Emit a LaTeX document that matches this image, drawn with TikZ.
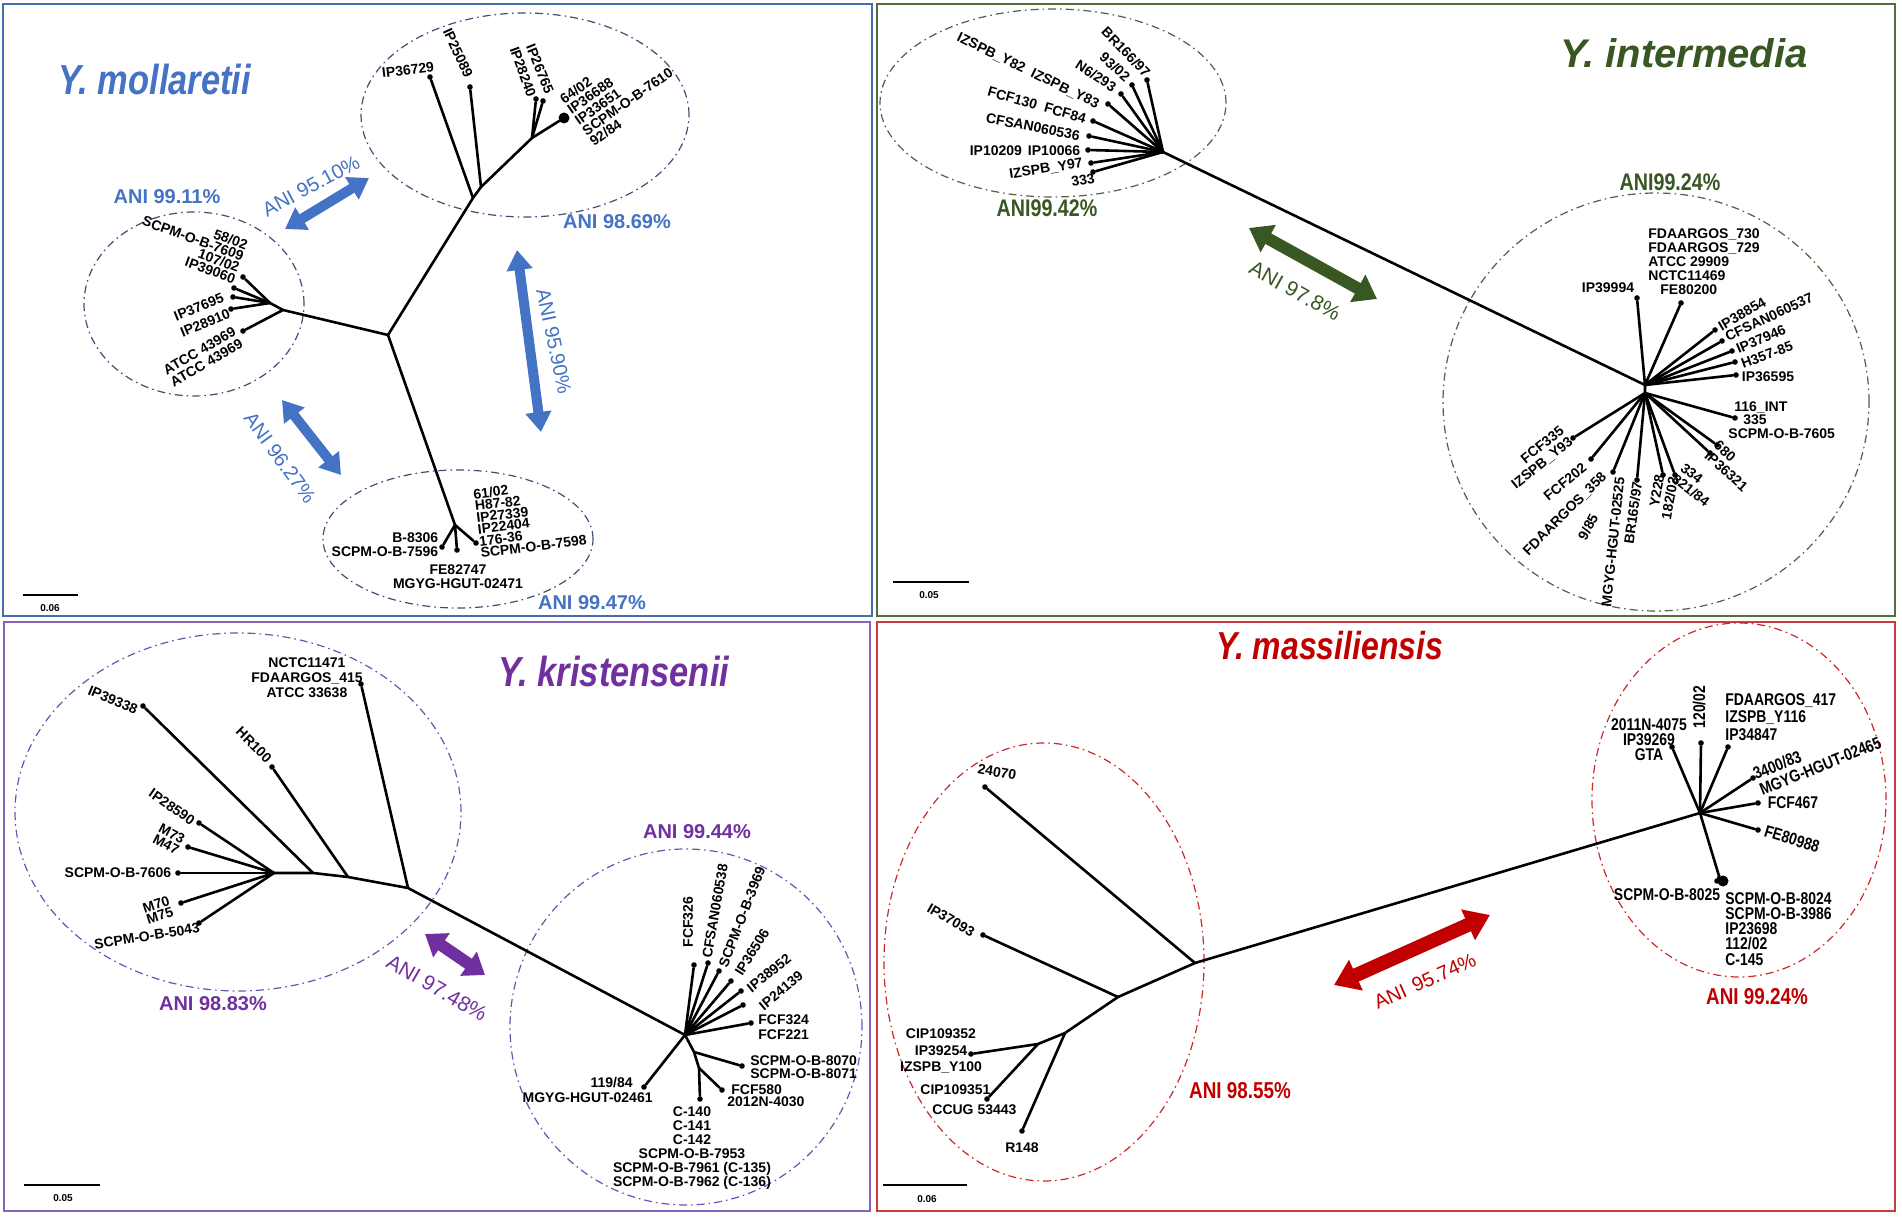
\documentclass[tikz,border=0pt]{standalone}
\usepackage{fontspec}
\setmainfont{Liberation Sans}
\newfontfamily\narrowsans[FakeStretch=0.82]{Liberation Sans}
\usepackage{tikz}
\usetikzlibrary{arrows.meta}
\definecolor{mollblue}{RGB}{68,114,196}
\definecolor{mollring}{RGB}{60,80,120}
\definecolor{mollframe}{RGB}{70,110,175}
\definecolor{intgreen}{RGB}{56,87,35}
\definecolor{intring}{RGB}{85,95,65}
\definecolor{intframe}{RGB}{84,110,60}
\definecolor{kripurple}{RGB}{112,48,160}
\definecolor{kriring}{RGB}{115,80,175}
\definecolor{kriframe}{RGB}{135,100,185}
\definecolor{masred}{RGB}{192,0,0}
\definecolor{masring}{RGB}{205,40,40}
\definecolor{masframe}{RGB}{200,60,60}
\tikzset{
	branch/.style={line width=1.3pt, line cap=round},
	leafdot/.style={circle, fill, inner sep=0pt, minimum size=2.8pt},
	bigdot/.style={circle, fill, inner sep=0pt, minimum size=5.5pt},
	strain/.style={font=\bfseries\fontsize{7}{7}\selectfont, inner sep=0pt, align=center},
	strainN/.style={strain, font=\narrowsans\bfseries\fontsize{8.5}{8.5}\selectfont},
	ring/.style={line width=0.6pt, dash pattern=on 4pt off 2pt on 0.8pt off 2pt},
	anilbl/.style={font=\bfseries\fontsize{10}{12}\selectfont, inner sep=0pt},
	gaplbl/.style={font=\fontsize{10}{12}\selectfont, inner sep=0pt},
	species/.style={font=\bfseries\itshape\fontsize{20}{24}\selectfont, inner sep=0pt},
	twoway/.style n args={3}{line width=#1, {Triangle[length=#2,width=#3]}-{Triangle[length=#2,width=#3]}},
	panel/.style={line width=1pt},
	scalebar/.style={line width=1.2pt},
	scalelbl/.style={font=\bfseries\fontsize{5}{6}\selectfont, inner sep=0pt}
}

\begin{document}
\begin{tikzpicture}[x=0.5pt, y=-0.5pt]
	\fill[white] (0,0) rectangle (1902,1218);
	\useasboundingbox (0,0) rectangle (1902,1218);

	\draw[panel, mollframe] (3,4) rectangle (872,616);
	\draw[panel, intframe] (877,4) rectangle (1895,616);
	\draw[panel, kriframe] (4,622) rectangle (870,1211);
	\draw[panel, masframe] (877,622) rectangle (1895,1211);

	% Y. mollaretii
	\node[species, mollblue, font=\narrowsans\bfseries\itshape\fontsize{21}{24}\selectfont] (tmoll) at (155,79) {Y. mollaretii};
	\draw[ring, mollring] (525,115) ellipse [x radius=82pt, y radius=51pt];
	\draw[ring, mollring] (194,304) ellipse [x radius=55pt, y radius=46pt];
	\draw[ring, mollring] (458,539) ellipse [x radius=67.5pt, y radius=34.5pt];

	\coordinate (mC) at (388,335);
	\coordinate (mT1) at (473,198);
	\coordinate (mT2) at (481,187);
	\coordinate (mT3) at (532,138);
	\coordinate (mL1) at (283,310);
	\coordinate (mL2) at (270,303);
	\coordinate (mB1) at (455,525);
	\node[leafdot] (m36729) at (430,77) {};
	\node[leafdot] (m25089) at (470,87) {};
	\node[leafdot] (m28240) at (536,99) {};
	\node[leafdot] (m26765) at (543,101) {};
	\node[bigdot] (m6402) at (564,118) {};
	\node[leafdot] (m10702) at (243,277) {};
	\node[leafdot] (m39060) at (234,288) {};
	\node[leafdot] (m7609) at (233,297) {};
	\node[leafdot] (m37695) at (231,309) {};
	\node[leafdot] (m43969) at (243,331) {};
	\node[leafdot] (m7596) at (442,547) {};
	\node[leafdot] (m82747) at (457,550) {};
	\node[leafdot] (m7598) at (476,543) {};

	\draw[branch] (mC) -- (mT1) -- (mT2) -- (mT3) -- (m6402);
	\draw[branch] (mT1) -- (m36729);
	\draw[branch] (mT2) -- (m25089);
	\draw[branch] (mT3) -- (m28240);
	\draw[branch] (mT3) -- (m26765);
	\draw[branch] (mC) -- (mL1) -- (m43969);
	\draw[branch] (mL1) -- (mL2) -- (m10702);
	\draw[branch] (mL2) -- (m39060);
	\draw[branch] (mL2) -- (m7609);
	\draw[branch] (mL2) -- (m37695);
	\draw[branch] (mC) -- (mB1) -- (m82747);
	\draw[branch] (mB1) -- (m7596);
	\draw[branch] (mB1) -- (m7598);

	\node[strain, rotate=7] (l36729) at (408,70) {IP36729};
	\node[strain, rotate=-65] (l25089) at (458,53) {IP25089};
	\node[strain, rotate=-70] (l28240) at (523,72) {IP28240};
	\node[strain, rotate=-68] (l26765) at (540,69) {IP26765};
	\node[strain, align=left, rotate=35, font=\bfseries\fontsize{7}{6.5}\selectfont] (l6402) at (620,91) {64/02\\IP36688\\IP33651\\SCPM-O-B-7610\\92/84};
	\node[strain, align=right, rotate=-20, font=\bfseries\fontsize{7}{6}\selectfont] (l7609) at (191,244) {58/02\\SCPM-O-B-7609\\107/02\\IP39060};
	\node[strain, align=right, rotate=22, font=\bfseries\fontsize{7}{8.5}\selectfont] (l37695) at (202,315) {IP37695\\IP28910};
	\node[strain, rotate=30] (l43969) at (203,357) {ATCC 43969\\ATCC 43969};
	\node[strain, align=left, rotate=7, font=\bfseries\fontsize{7}{5.9}\selectfont] (l7598) at (530,517) {61/02\\H87-82\\IP27339\\IP22404\\176-36\\SCPM-O-B-7598};
	\node[strain, align=right] (l7596) at (385,545) {B-8306\\SCPM-O-B-7596};
	\node[strain] (l82747) at (458,577) {FE82747\\MGYG-HGUT-02471};

	\node[anilbl, mollblue] (amoll1) at (167,197) {ANI 99.11\%};
	\node[anilbl, mollblue] (amoll2) at (617,222) {ANI 98.69\%};
	\node[anilbl, mollblue] (amoll3) at (592,603) {ANI 99.47\%};

	\coordinate (gm1a) at (285,229);
	\coordinate (gm1b) at (369,178);
	\coordinate (gm2a) at (517,250);
	\coordinate (gm2b) at (541,432);
	\coordinate (gm3a) at (282,400);
	\coordinate (gm3b) at (341,475);
	\draw[twoway={5pt}{10pt}{12.5pt}, mollblue] (gm1a) -- (gm1b);
	\draw[twoway={5pt}{10pt}{12.5pt}, mollblue] (gm2a) -- (gm2b);
	\draw[twoway={5pt}{10pt}{12.5pt}, mollblue] (gm3a) -- (gm3b);
	\node[gaplbl, mollblue, rotate=28] (gmoll1) at (311,186) {ANI 95.10\%};
	\node[gaplbl, mollblue, rotate=-78] (gmoll2) at (554,341) {ANI 95.90\%};
	\node[gaplbl, mollblue, rotate=-54] (gmoll3) at (280,458) {ANI 96.27\%};

	\coordinate (sbm1) at (23,595);
	\coordinate (sbm2) at (78,595);
	\draw[scalebar] (sbm1) -- (sbm2);
	\node[scalelbl] (sbmlbl) at (50,608) {0.06};

	% Y. intermedia
	\node[species, intgreen] (tint) at (1684,53) {Y. intermedia};
	\draw[ring, intring] (1053,103) ellipse [x radius=86.5pt, y radius=47pt];
	\draw[ring, intring] (1656,402) ellipse [x radius=106.5pt, y radius=104.5pt];

	\coordinate (iA) at (1163,152);
	\coordinate (iB) at (1645,385);
	\coordinate (iC) at (1645,393);
	\node[leafdot] (i16697) at (1147,80) {};
	\node[leafdot] (i9302) at (1132,85) {};
	\node[leafdot] (i6293) at (1121,94) {};
	\node[leafdot] (iY83) at (1108,104) {};
	\node[leafdot] (i84) at (1093,121) {};
	\node[leafdot] (i60536) at (1089,136) {};
	\node[leafdot] (i10066) at (1088,150) {};
	\node[leafdot] (iY97) at (1091,163) {};
	\node[leafdot] (i333) at (1093,172) {};
	\node[leafdot] (i39994) at (1637,298) {};
	\node[leafdot] (i80200) at (1681,303) {};
	\node[leafdot] (i38854) at (1715,330) {};
	\node[leafdot] (i60537) at (1722,341) {};
	\node[leafdot] (i37946) at (1732,351) {};
	\node[leafdot] (i35785) at (1735,362) {};
	\node[leafdot] (i36595) at (1736,375) {};
	\node[leafdot] (i116) at (1735,418) {};
	\node[leafdot] (i680) at (1717,445) {};
	\node[leafdot] (i36321) at (1710,453) {};
	\node[leafdot] (i334) at (1675,475) {};
	\node[leafdot] (iY228) at (1663,475) {};
	\node[leafdot] (i16597) at (1637,480) {};
	\node[leafdot] (i02525) at (1613,472) {};
	\node[leafdot] (i202) at (1591,459) {};
	\node[leafdot] (i335) at (1573,438) {};

	\draw[branch] (iA) -- (iB) -- (iC);
	\foreach \t in {i16697,i9302,i6293,iY83,i84,i60536,i10066,iY97,i333}
		\draw[branch] (iA) -- (\t);
	\foreach \t in {i39994,i80200,i38854,i60537,i37946,i35785,i36595}
		\draw[branch] (iB) -- (\t);
	\foreach \t in {i116,i680,i36321,i334,iY228,i16597,i02525,i202,i335}
		\draw[branch] (iC) -- (\t);

	\node[strain, rotate=-46] (l16697) at (1126,52) {BR166/97};
	\node[strain, rotate=-42] (l9302) at (1115,67) {93/02};
	\node[strain, rotate=-33] (l6293) at (1096,76) {N6/293};
	\node[strain, rotate=-26] (lY82) at (1028,71) {IZSPB\_Y82\hspace{4pt}IZSPB\_Y83};
	\node[strain, rotate=-16] (l130) at (1037,105) {FCF130\hspace{4pt}FCF84};
	\node[strain, rotate=-11] (l60536) at (1033,127) {CFSAN060536};
	\node[strain] (l10209) at (1025,151) {IP10209\hspace{3pt}IP10066};
	\node[strain, rotate=9] (lY97) at (1046,169) {IZSPB\_Y97};
	\node[strain, rotate=10] (l333) at (1083,180) {333};
	\node[strain, align=left, anchor=north west] (l730) at (1648,228) {FDAARGOS\_730\\FDAARGOS\_729\\ATCC 29909\\NCTC11469\\\hspace*{6pt}FE80200};
	\node[strain] (l39994) at (1608,288) {IP39994};
	\node[strain, rotate=30] (l38854) at (1742,314) {IP38854};
	\node[strain, rotate=25] (l60537) at (1769,317) {CFSAN060537};
	\node[strain, rotate=23] (l37946) at (1761,339) {IP37946};
	\node[strain, rotate=20] (l35785) at (1767,355) {H357-85};
	\node[strain] (l36595) at (1768,377) {IP36595};
	\node[strain, align=left, anchor=north west, font=\bfseries\fontsize{7}{6.8}\selectfont] (l116) at (1728,401) {\hspace*{3pt}116\_INT\\\hspace*{7.5pt}335\\SCPM-O-B-7605};
	\node[strain, align=left, rotate=-42] (l680) at (1731,466) {680\\IP36321};
	\node[strain, align=left, rotate=-38] (l334) at (1695,485) {334\\821/84};
	\node[strain, align=right, rotate=80] (lY228) at (1663,497) {Y228\\182/02};
	\node[strain, rotate=82] (l16597) at (1633,513) {BR165/97};
	\node[strain, rotate=84] (l02525) at (1613,542) {MGYG-HGUT-02525};
	\node[strain, rotate=63] (l985) at (1588,527) {9/85};
	\node[strain, rotate=45] (l358) at (1565,514) {FDAARGOS\_358};
	\node[strain, rotate=40] (l202) at (1565,482) {FCF202};
	\node[strain, align=right, rotate=39] (l335) at (1538,458) {FCF335\\IZSPB\_Y93};

	\node[anilbl, intgreen, font=\narrowsans\bfseries\fontsize{12}{14}\selectfont] (aint1) at (1047,208) {ANI99.42\%};
	\node[anilbl, intgreen, font=\narrowsans\bfseries\fontsize{12}{14}\selectfont] (aint2) at (1670,182) {ANI99.24\%};

	\coordinate (gia) at (1249,228);
	\coordinate (gib) at (1377,299);
	\draw[twoway={6pt}{11pt}{15pt}, intgreen] (gia) -- (gib);
	\node[gaplbl, intgreen, font=\fontsize{10.5}{12}\selectfont, rotate=-29] (gint) at (1295,291) {ANI 97.8\%};

	\coordinate (sbi1) at (893,582);
	\coordinate (sbi2) at (969,582);
	\draw[scalebar] (sbi1) -- (sbi2);
	\node[scalelbl] (sbilbl) at (929,595) {0.05};

	% Y. kristensenii
	\node[species, kripurple, font=\narrowsans\bfseries\itshape\fontsize{21}{24}\selectfont] (tkri) at (614,671) {Y. kristensenii};
	\draw[ring, kriring] (238,812) ellipse [x radius=111.5pt, y radius=89.5pt];
	\draw[ring, kriring] (686,1027) ellipse [x radius=88pt, y radius=89pt];

	\coordinate (kA) at (274,873);
	\coordinate (kB) at (313,873);
	\coordinate (kC) at (348,877);
	\coordinate (kD) at (408,888);
	\coordinate (kE) at (685,1035);
	\coordinate (kF) at (694,1052);
	\coordinate (kG) at (699,1068);
	\node[leafdot] (k39338) at (143,706) {};
	\node[leafdot] (kHR100) at (272,767) {};
	\node[leafdot] (k11471) at (361,684) {};
	\node[leafdot] (k28590) at (199,823) {};
	\node[leafdot] (kM73) at (188,847) {};
	\node[leafdot] (k7606) at (178,873) {};
	\node[leafdot] (kM70) at (181,903) {};
	\node[leafdot] (k5043) at (199,923) {};
	\node[leafdot] (k326) at (694,965) {};
	\node[leafdot] (k60538) at (708,963) {};
	\node[leafdot] (k3969) at (719,971) {};
	\node[leafdot] (k36506) at (731,981) {};
	\node[leafdot] (k38952) at (741,991) {};
	\node[leafdot] (k24139) at (743,1005) {};
	\node[leafdot] (k324) at (751,1023) {};
	\node[leafdot] (k8070) at (742,1066) {};
	\node[leafdot] (k580) at (722,1090) {};
	\node[leafdot] (kC140) at (700,1099) {};
	\node[leafdot] (k11984) at (644,1087) {};

	\draw[branch] (kA) -- (kB) -- (kC) -- (kD) -- (kE);
	\draw[branch] (kB) -- (k39338);
	\draw[branch] (kC) -- (kHR100);
	\draw[branch] (kD) -- (k11471);
	\foreach \t in {k28590,kM73,k7606,kM70,k5043}
		\draw[branch] (kA) -- (\t);
	\foreach \t in {k326,k60538,k3969,k36506,k38952,k24139,k324,k11984}
		\draw[branch] (kE) -- (\t);
	\draw[branch] (kE) -- (kF) -- (kG) -- (kC140);
	\draw[branch] (kF) -- (k8070);
	\draw[branch] (kG) -- (k580);

	\node[strain, font=\bfseries\fontsize{7}{7.5}\selectfont] (l11471) at (307,678) {NCTC11471\\FDAARGOS\_415\\ATCC 33638};
	\node[strain, rotate=-23] (l39338) at (113,700) {IP39338};
	\node[strain, rotate=-45] (lHR100) at (254,745) {HR100};
	\node[strain, rotate=-35] (l28590) at (172,807) {IP28590};
	\node[strain, rotate=-28, font=\bfseries\fontsize{7}{6}\selectfont] (lM73) at (169,839) {M73\\M47};
	\node[strain] (l7606) at (118,873) {SCPM-O-B-7606};
	\node[strain, rotate=18, font=\bfseries\fontsize{7}{6}\selectfont] (lM70) at (158,910) {M70\\M75};
	\node[strain, rotate=9] (l5043) at (147,936) {SCPM-O-B-5043};
	\node[strain, rotate=90] (l326) at (688,922) {FCF326};
	\node[strain, rotate=80] (l60538) at (715,911) {CFSAN060538};
	\node[strain, rotate=69] (l3969) at (742,917) {SCPM-O-B-3969};
	\node[strain, rotate=58] (l36506) at (752,952) {IP36506};
	\node[strain, rotate=39] (l38952) at (769,973) {IP38952};
	\node[strain, rotate=40] (l24139) at (781,991) {IP24139};
	\node[strain, align=left, anchor=north west, font=\bfseries\fontsize{7}{7.5}\selectfont] (l324) at (758,1014) {FCF324\\FCF221};
	\node[strain, align=left, anchor=north west, font=\bfseries\fontsize{7}{6.7}\selectfont] (l8070) at (750,1055) {SCPM-O-B-8070\\SCPM-O-B-8071};
	\node[strain, align=left, anchor=north west, font=\bfseries\fontsize{7}{6.3}\selectfont] (l580) at (727,1084) {\hspace*{2pt}FCF580\\2012N-4030};
	\node[strain, align=right, anchor=north east, font=\bfseries\fontsize{7}{7.5}\selectfont] (l11984) at (653,1077) {119/84\hspace*{10pt}\\MGYG-HGUT-02461};
	\node[strain, anchor=north] (lC140) at (692,1106) {C-140\\C-141\\C-142\\SCPM-O-B-7953\\SCPM-O-B-7961 (C-135)\\SCPM-O-B-7962 (C-136)};

	\node[anilbl, kripurple] (akri1) at (213,1004) {ANI 98.83\%};
	\node[anilbl, kripurple] (akri2) at (697,832) {ANI 99.44\%};

	\coordinate (gka) at (425,934);
	\coordinate (gkb) at (485,975);
	\draw[twoway={6pt}{10pt}{14pt}, kripurple] (gka) -- (gkb);
	\node[gaplbl, kripurple, font=\fontsize{10.5}{12}\selectfont, rotate=-30] (gkri) at (437,988) {ANI 97.48\%};

	\coordinate (sbk1) at (24,1185);
	\coordinate (sbk2) at (100,1185);
	\draw[scalebar] (sbk1) -- (sbk2);
	\node[scalelbl] (sbklbl) at (63,1198) {0.05};

	% Y. massiliensis
	\node[species, masred, font=\narrowsans\bfseries\itshape\fontsize{19.5}{24}\selectfont] (tmas) at (1330,646) {Y. massiliensis};
	\draw[ring, masring] (1044,962) ellipse [x radius=80pt, y radius=109.5pt];
	\draw[ring, masring] (1739,800) ellipse [x radius=73.5pt, y radius=88.5pt];

	\coordinate (sA) at (1700,813);
	\coordinate (sB) at (1719,876);
	\coordinate (sJ1) at (1195,963);
	\coordinate (sJ2) at (1118,997);
	\coordinate (sJ3) at (1065,1033);
	\coordinate (sJ4) at (1038,1044);
	\node[leafdot] (s4075) at (1672,747) {};
	\node[leafdot] (s12002) at (1701,743) {};
	\node[leafdot] (s417) at (1728,747) {};
	\node[leafdot] (s340083) at (1753,778) {};
	\node[leafdot] (s467) at (1758,803) {};
	\node[leafdot] (s80988) at (1758,830) {};
	\node[leafdot] (s8025) at (1717,881) {};
	\node[bigdot] (s8024) at (1723,881) {};
	\node[leafdot] (s24070) at (985,787) {};
	\node[leafdot] (s37093) at (983,935) {};
	\node[leafdot] (sR148) at (1022,1131) {};
	\node[leafdot] (s109352) at (971,1054) {};
	\node[leafdot] (s109351) at (987,1099) {};

	\draw[branch] (sA) -- (sJ1) -- (sJ2) -- (sJ3) -- (sJ4) -- (s109352);
	\draw[branch] (sJ1) -- (s24070);
	\draw[branch] (sJ2) -- (s37093);
	\draw[branch] (sJ3) -- (sR148);
	\draw[branch] (sJ4) -- (s109351);
	\foreach \t in {s4075,s12002,s417,s340083,s467,s80988}
		\draw[branch] (sA) -- (\t);
	\draw[branch] (sA) -- (sB) -- (s8025);
	\draw[branch] (sB) -- (s8024);

	\node[strainN, font=\narrowsans\bfseries\fontsize{8.5}{7.5}\selectfont] (l4075) at (1649,740) {2011N-4075\\IP39269\\GTA};
	\node[strainN, rotate=90] (l12002) at (1699,707) {120/02};
	\node[strainN, align=left, anchor=north west, font=\narrowsans\bfseries\fontsize{8.5}{8.8}\selectfont] (l417) at (1725,693) {FDAARGOS\_417\\IZSPB\_Y116\\IP34847};
	\node[strainN, align=left, rotate=22] (l340083) at (1817,758) {3400/83\\MGYG-HGUT-02465};
	\node[strainN] (l467) at (1793,803) {FCF467};
	\node[strainN, rotate=-17] (l80988) at (1792,839) {FE80988};
	\node[strainN] (l8025) at (1667,895) {SCPM-O-B-8025};
	\node[strainN, align=left, anchor=north west, font=\narrowsans\bfseries\fontsize{8.5}{7.6}\selectfont] (l8024) at (1725,892) {SCPM-O-B-8024\\SCPM-O-B-3986\\IP23698\\112/02\\C-145};
	\node[strain, rotate=-10] (l24070) at (997,772) {24070};
	\node[strain, rotate=-30] (l37093) at (951,920) {IP37093};
	\node[strain, font=\bfseries\fontsize{7}{8.3}\selectfont] (l109352) at (941,1051) {CIP109352\\IP39254\\IZSPB\_Y100};
	\node[strain, align=left, anchor=north west, font=\bfseries\fontsize{7}{10}\selectfont] (l109351) at (920,1084) {CIP109351\\\hspace*{6pt}CCUG 53443};
	\node[strain] (lR148) at (1022,1148) {R148};

	\node[anilbl, masred, font=\narrowsans\bfseries\fontsize{11.5}{14}\selectfont] (amas1) at (1240,1091) {ANI 98.55\%};
	\node[anilbl, masred, font=\narrowsans\bfseries\fontsize{11.5}{14}\selectfont] (amas2) at (1757,997) {ANI 99.24\%};

	\coordinate (gsa) at (1334,985);
	\coordinate (gsb) at (1490,915);
	\draw[twoway={7pt}{12pt}{16pt}, masred] (gsa) -- (gsb);
	\node[gaplbl, masred, rotate=24] (gmas) at (1425,981) {ANI\hspace{4pt}95.74\%};

	\coordinate (sbs1) at (883,1185);
	\coordinate (sbs2) at (967,1185);
	\draw[scalebar] (sbs1) -- (sbs2);
	\node[scalelbl] (sbslbl) at (927,1199) {0.06};
\end{tikzpicture}
\end{document}
